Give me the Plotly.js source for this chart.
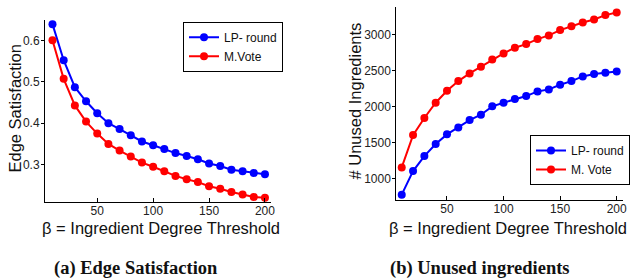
<!DOCTYPE html>
<html><head><meta charset="utf-8">
<script src="https://cdn.plot.ly/plotly-3.0.1.min.js"></script>
<style>body{margin:0;padding:0;background:#fff}#c{width:637px;height:280px}</style>
</head><body><div id="c"></div>
<script>
const beta = [10,20,30,40,50,60,70,80,90,100,110,120,130,140,150,160,170,180,190,200];
const edgeLP = [0.639,0.552,0.487,0.453,0.424,0.400,0.386,0.371,0.356,0.347,0.338,0.328,0.321,0.313,0.303,0.297,0.288,0.284,0.280,0.277];
const edgeMV = [0.600,0.507,0.443,0.404,0.375,0.350,0.334,0.320,0.305,0.295,0.284,0.273,0.265,0.258,0.248,0.242,0.234,0.228,0.222,0.220];
const unusedLP = [778,1106,1315,1481,1616,1713,1815,1889,2005,2056,2106,2148,2213,2241,2306,2356,2421,2454,2472,2491];
const unusedMV = [1157,1606,1843,2056,2222,2356,2463,2556,2657,2741,2820,2870,2940,2991,3065,3120,3171,3213,3273,3310];
const xTicks = [50,100,150,200];
const yTicksL = [0.3,0.4,0.5,0.6];
const yTicksR = [1000,1500,2000,2500,3000];
const nameLP = 'LP- round';
const nameMVa = 'M.Vote';
const nameMVb = 'M. Vote';
const xTitle = 'β = Ingredient Degree Threshold';
const yTitleL = 'Edge Satisfaction';
const yTitleR = '# Unused Ingredients';
const capA = '(a) Edge Satisfaction';
const capB = '(b) Unused ingredients';

const W=637,H=280;
const fx = p => p/W, fy = p => 1-p/H;
const BLUE='#0000ff', RED='#ff0000';
const mk = c => ({color:c,size:8});
const ln = c => ({color:c,width:2});

const traces = [
 {x:beta,y:edgeLP,name:nameLP,mode:'lines+markers',marker:mk(BLUE),line:ln(BLUE),xaxis:'x',yaxis:'y',legend:'legend'},
 {x:beta,y:edgeMV,name:nameMVa,mode:'lines+markers',marker:mk(RED),line:ln(RED),xaxis:'x',yaxis:'y',legend:'legend'},
 {x:beta,y:unusedLP,name:nameLP,mode:'lines+markers',marker:mk(BLUE),line:ln(BLUE),xaxis:'x2',yaxis:'y2',legend:'legend2'},
 {x:beta,y:unusedMV,name:nameMVb,mode:'lines+markers',marker:mk(RED),line:ln(RED),xaxis:'x2',yaxis:'y2',legend:'legend2'}
];
const tickFont = {family:'Liberation Sans, Arial, sans-serif',size:12,color:'#222'};
const axBase = {showgrid:false,zeroline:false,showline:true,linecolor:'#000',linewidth:1,tickcolor:'#000',tickfont:tickFont,fixedrange:true};
const xBase = Object.assign({},axBase,{ticks:'inside',ticklen:4,ticklabelstandoff:-2});
const yBase = Object.assign({},axBase,{ticks:'outside',ticklen:3,ticklabelstandoff:-1});
const titleFont = {family:'Liberation Sans, Arial, sans-serif',size:16.5,color:'#111'};
const capFont = {family:'Liberation Serif, Times New Roman, serif',size:18.5,color:'#111'};
const legFont = {family:'Liberation Sans, Arial, sans-serif',size:12,color:'#111'};

const layout = {
 width:W,height:H,margin:{l:0,r:0,t:0,b:0},paper_bgcolor:'#fff',plot_bgcolor:'#fff',
 xaxis:Object.assign({},xBase,{domain:[fx(45),fx(271)],range:[3.3,205.4],tickvals:xTicks,anchor:'y'}),
 yaxis:Object.assign({},yBase,{domain:[fy(202),fy(20)],range:[0.21,0.649],tickvals:yTicksL,anchor:'x'}),
 xaxis2:Object.assign({},xBase,{domain:[fx(396.3),fx(622.7)],range:[5.2,205.3],tickvals:xTicks,anchor:'y2'}),
 yaxis2:Object.assign({},yBase,{domain:[fy(200),fy(6.7)],range:[704,3390],tickvals:yTicksR,anchor:'x2'}),
 legend:{x:fx(183),y:fy(21.7),xanchor:'left',yanchor:'top',bgcolor:'#fff',bordercolor:'#000',borderwidth:1,font:legFont,itemwidth:30,tracegroupgap:0},
 legend2:{x:fx(530),y:fy(135),xanchor:'left',yanchor:'top',bgcolor:'#fff',bordercolor:'#000',borderwidth:1,font:legFont,itemwidth:30,tracegroupgap:0},
 showlegend:true,
 annotations:[
  {text:xTitle,xref:'paper',yref:'paper',x:fx(160.5),y:fy(228),xanchor:'center',yanchor:'middle',showarrow:false,font:titleFont},
  {text:xTitle,xref:'paper',yref:'paper',x:fx(387),y:fy(228),xanchor:'left',yanchor:'middle',showarrow:false,font:titleFont},
  {text:yTitleL,xref:'paper',yref:'paper',x:fx(14.5),y:fy(109),xanchor:'center',yanchor:'middle',textangle:-90,showarrow:false,font:titleFont},
  {text:yTitleR,xref:'paper',yref:'paper',x:fx(354),y:fy(101.5),xanchor:'center',yanchor:'middle',textangle:-90,showarrow:false,font:titleFont},
  {text:'<b>'+capA+'</b>',xref:'paper',yref:'paper',x:fx(136),y:fy(268),xanchor:'center',yanchor:'middle',showarrow:false,font:capFont},
  {text:'<b>'+capB+'</b>',xref:'paper',yref:'paper',x:fx(480),y:fy(268),xanchor:'center',yanchor:'middle',showarrow:false,font:capFont}
 ]
};
Plotly.newPlot('c',traces,layout,{displayModeBar:false,staticPlot:true});
</script></body></html>
